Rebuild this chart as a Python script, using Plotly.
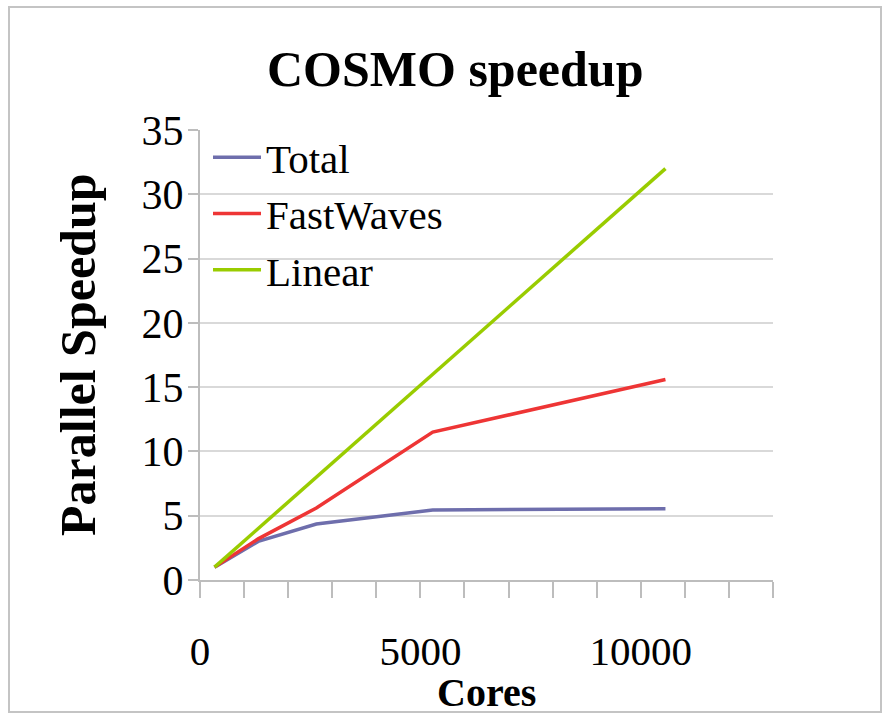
import plotly.graph_objects as go

cores = [330, 1320, 2640, 5280, 10560]
total = [1.0, 3.0, 4.35, 5.45, 5.55]
fastwaves = [1.0, 3.2, 5.6, 11.5, 15.6]
linear = [1, 4, 8, 16, 32]

x_tickvals = list(range(0, 13001, 1000))
x_ticktext = [str(v) if v % 5000 == 0 else "" for v in x_tickvals]
y_tickvals = [0, 5, 10, 15, 20, 25, 30, 35]

FONT = "Liberation Serif"

fig = go.Figure()
fig.add_trace(go.Scatter(x=cores, y=total, mode="lines", name="Total",
                         line=dict(color="#6e6eac", width=3.5)))
fig.add_trace(go.Scatter(x=cores, y=fastwaves, mode="lines", name="FastWaves",
                         line=dict(color="#ee3535", width=3.5)))
fig.add_trace(go.Scatter(x=cores, y=linear, mode="lines", name="Linear",
                         line=dict(color="#99cc00", width=3.5)))

L, R, T, B = 200, 122, 130, 138
W, H = 895, 718
pw, ph = W - L - R, H - T - B

def px_x(p):
    return (p - L) / pw

def px_y(p):
    return (H - B - p) / ph

fig.update_layout(
    width=W, height=H,
    margin=dict(l=L, r=R, t=T, b=B),
    paper_bgcolor="white", plot_bgcolor="white",
    font=dict(family=FONT, color="black"),
    showlegend=True,
    legend=dict(x=px_x(208), y=px_y(124), xanchor="left", yanchor="top",
                font=dict(family=FONT, size=41, color="black"),
                bgcolor="rgba(0,0,0,0)", tracegroupgap=0, itemwidth=48),
    xaxis=dict(range=[0, 13000], tickvals=x_tickvals, ticktext=x_ticktext,
               showgrid=False, zeroline=False, showline=True,
               linecolor="#bdbdbd", linewidth=2,
               ticks="outside", ticklen=16, tickwidth=1.5, tickcolor="#bdbdbd",
               tickfont=dict(family=FONT, size=41, color="black"),
               ticklabelstandoff=18),
    yaxis=dict(range=[0, 35], tickvals=y_tickvals,
               showgrid=True, gridcolor="#d9d9d9", gridwidth=2,
               zeroline=False, showline=True, linecolor="#bdbdbd", linewidth=2,
               ticks="outside", ticklen=10, tickwidth=1.5, tickcolor="#bdbdbd",
               tickfont=dict(family=FONT, size=42, color="black"),
               ticklabelstandoff=-4),
    annotations=[
        dict(text="<b>COSMO speedup</b>", xref="paper", yref="paper",
             x=px_x(455), y=px_y(69), xanchor="center", yanchor="middle",
             showarrow=False, font=dict(family=FONT, size=50, color="black")),
        dict(text="<b>Parallel Speedup</b>", xref="paper", yref="paper",
             x=px_x(78), y=px_y(355), xanchor="center", yanchor="middle",
             textangle=-90, showarrow=False,
             font=dict(family=FONT, size=50, color="black")),
        dict(text="<b>Cores</b>", xref="paper", yref="paper",
             x=px_x(486), y=px_y(692), xanchor="center", yanchor="middle",
             showarrow=False, font=dict(family=FONT, size=40, color="black")),
    ],
    shapes=[
        dict(type="rect", xref="paper", yref="paper",
             x0=px_x(9), x1=px_x(881), y0=px_y(712), y1=px_y(7),
             line=dict(color="#c4c4c4", width=2), fillcolor="rgba(0,0,0,0)",
             layer="below"),
    ],
)

fig.write_html("out.html")
